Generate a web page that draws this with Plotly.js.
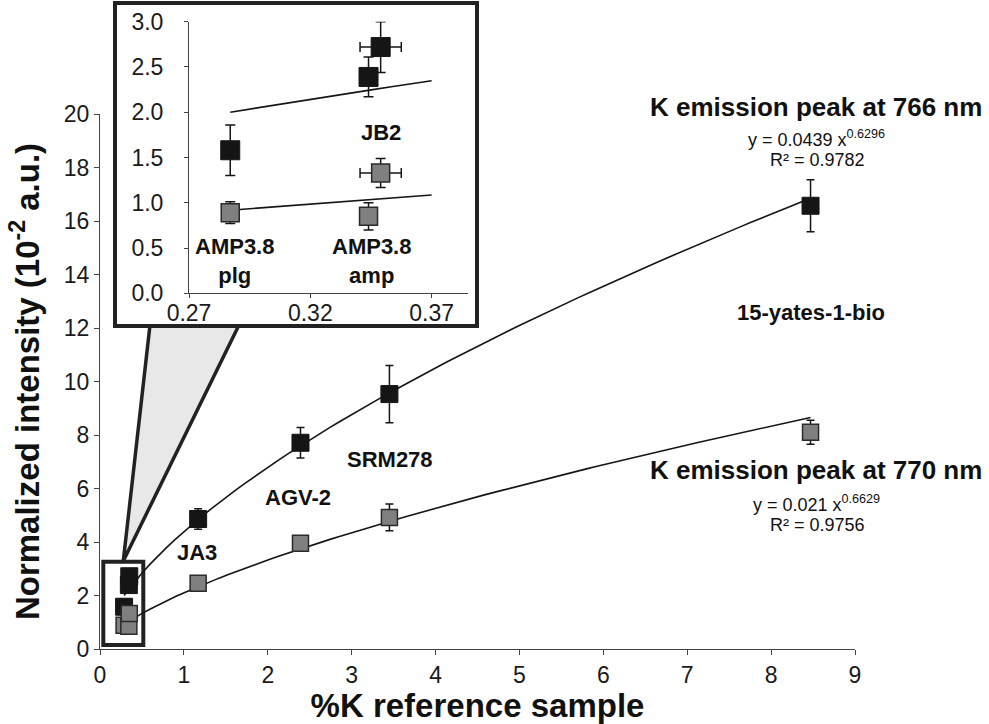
<!DOCTYPE html>
<html>
<head>
<meta charset="utf-8">
<script src="https://cdn.plot.ly/plotly-3.0.1.min.js"></script>
<style>html,body{margin:0;padding:0;background:#fff;}#chart{width:989px;height:724px;}</style>
</head>
<body>
<div id="chart"></div>
<script>
// ---- data ----
const samples    = ["AMP3.8 plg", "AMP3.8 amp", "JB2", "JA3", "AGV-2", "SRM278", "15-yates-1-bio"];
const kPercent   = [0.287, 0.344, 0.349, 1.17, 2.39, 3.45, 8.47];
const kPercentErr= [0, 0, 0.0085, 0, 0, 0, 0];
const int766     = [1.58, 2.39, 2.72, 4.86, 7.71, 9.53, 16.57];
const int766Err  = [0.28, 0.22, 0.28, 0.38, 0.57, 1.07, 0.97];
const int770     = [0.89, 0.85, 1.33, 2.46, 3.95, 4.92, 8.10];
const int770Err  = [0.12, 0.15, 0.16, 0.12, 0.15, 0.50, 0.45];
// power-law trendlines as printed on the chart (y in a.u.; plotted in 1e-2 a.u.)
const fit766 = [0.0439, 0.6296, 0.9782];
const fit770 = [0.021, 0.6629, 0.9756];
const insetTicks = [0.27, 0.32, 0.37];
const insetCount = 3;   // the first three samples are shown in the inset

// ---- layout helpers (pixel -> paper) ----
const W = 989, H = 724, ML = 100, MR = 134, MT = 10, MB = 75;
const PW = W - ML - MR, PH = H - MT - MB;
const px = x => (x - ML) / PW;
const py = y => (H - MB - y) / PH;
const FONT = "Liberation Sans, Arial, sans-serif";

function curve(fit, x0, x1, n) {
  const xs = [], ys = [];
  for (let i = 0; i <= n; i++) {
    const x = x0 + (x1 - x0) * i / n;
    xs.push(x); ys.push(100 * fit[0] * Math.pow(x, fit[1]));
  }
  return {xs, ys};
}
const xMin = Math.min(...kPercent), xMax = Math.max(...kPercent);
const c766 = curve(fit766, xMin, xMax, 80);
const c770 = curve(fit770, xMin, xMax, 80);
const ci766 = curve(fit766, xMin, insetTicks[2], 10);
const ci770 = curve(fit770, xMin, insetTicks[2], 10);

const blk = "#151515", gry = "#808080", edge = "#2a2a2a";

const traces = [
  {x: c766.xs, y: c766.ys, mode: "lines", line: {color: blk, width: 1.6}, xaxis: "x", yaxis: "y", hoverinfo: "skip"},
  {x: c770.xs, y: c770.ys, mode: "lines", line: {color: blk, width: 1.6}, xaxis: "x", yaxis: "y", hoverinfo: "skip"},
  {x: kPercent, y: int766, text: samples, mode: "markers", name: "K 766 nm",
   marker: {symbol: "square", size: 17, color: blk, line: {color: blk, width: 1}},
   error_y: {type: "data", array: int766Err, color: blk, thickness: 1.5, width: 4},
   xaxis: "x", yaxis: "y"},
  {x: kPercent, y: int770, text: samples, mode: "markers", name: "K 770 nm",
   marker: {symbol: "square", size: 16, color: gry, line: {color: edge, width: 1.5}},
   error_y: {type: "data", array: int770Err, color: blk, thickness: 1.5, width: 4},
   xaxis: "x", yaxis: "y"},
  // inset
  {x: ci766.xs, y: ci766.ys, mode: "lines", line: {color: blk, width: 1.6}, xaxis: "x2", yaxis: "y2", hoverinfo: "skip"},
  {x: ci770.xs, y: ci770.ys, mode: "lines", line: {color: blk, width: 1.6}, xaxis: "x2", yaxis: "y2", hoverinfo: "skip"},
  {x: kPercent.slice(0, insetCount), y: int766.slice(0, insetCount), mode: "markers",
   marker: {symbol: "square", size: 19, color: blk, line: {color: blk, width: 1}},
   error_y: {type: "data", array: int766Err.slice(0, insetCount), color: blk, thickness: 1.5, width: 5},
   error_x: {type: "data", array: kPercentErr.slice(0, insetCount), color: blk, thickness: 1.5, width: 5},
   xaxis: "x2", yaxis: "y2"},
  {x: kPercent.slice(0, insetCount), y: int770.slice(0, insetCount), mode: "markers",
   marker: {symbol: "square", size: 18, color: gry, line: {color: edge, width: 1.5}},
   error_y: {type: "data", array: int770Err.slice(0, insetCount), color: blk, thickness: 1.5, width: 5},
   error_x: {type: "data", array: kPercentErr.slice(0, insetCount), color: blk, thickness: 1.5, width: 5},
   xaxis: "x2", yaxis: "y2"}
];

const axisCommon = {
  showgrid: false, zeroline: false, showline: true, linecolor: "#444", linewidth: 1,
  ticks: "outside", ticklen: 5, tickcolor: "#444", tickwidth: 1,
  tickfont: {family: FONT, size: 23, color: "#1a1a1a"}
};

const yTop = py(114);
const layout = {
  width: W, height: H,
  margin: {l: ML, r: MR, t: MT, b: MB, pad: 0},
  paper_bgcolor: "#fff", plot_bgcolor: "rgba(0,0,0,0)",
  showlegend: false, hovermode: false,
  font: {family: FONT, color: "#111"},
  xaxis: Object.assign({}, axisCommon, {
    range: [0, 9], dtick: 1, domain: [0, 1], anchor: "y",
    title: {text: "%K reference sample", font: {family: FONT, size: 33, weight: 700, color: "#111"}, standoff: 6}
  }),
  yaxis: Object.assign({}, axisCommon, {
    range: [0, 20], dtick: 2, domain: [0, yTop], anchor: "x",
    title: {text: "Normalized intensity (10<sup>-2</sup> a.u.)", font: {family: FONT, size: 33, weight: 700, color: "#111"}, standoff: 14}
  }),
  xaxis2: Object.assign({}, axisCommon, {
    range: [0.27, 0.385], tickvals: insetTicks, ticktext: insetTicks.map(v => v.toFixed(2)),
    domain: [px(189), px(468)], anchor: "y2", ticklen: 4, ticklabelstandoff: -5
  }),
  yaxis2: Object.assign({}, axisCommon, {
    range: [0, 3.0], dtick: 0.5, tickformat: ".1f",
    domain: [py(293.3), py(21.7)], anchor: "x2", ticklen: 4, ticklabelstandoff: 16
  }),
  shapes: [
    {type: "path", xref: "paper", yref: "paper", layer: "below",
     path: `M ${px(150)} ${py(325)} L ${px(239)} ${py(325)} L ${px(123.3)} ${py(561)} Z`,
     fillcolor: "#e8e8e8", line: {color: "#222", width: 3.5}},
    {type: "rect", xref: "paper", yref: "paper", layer: "below",
     x0: px(115), x1: px(477), y0: py(326), y1: py(3),
     fillcolor: "#fff", line: {color: "#222", width: 4}},
    {type: "rect", xref: "paper", yref: "paper", layer: "below",
     x0: px(103.3), x1: px(143.3), y0: py(645), y1: py(561.7),
     fillcolor: "rgba(0,0,0,0)", line: {color: "#222", width: 4}}
  ],
  annotations: []
};

function ann(text, x, y, size, bold) {
  layout.annotations.push({
    text: text, xref: "paper", yref: "paper", x: px(x), y: py(y),
    xanchor: "center", yanchor: "middle", showarrow: false,
    font: {family: FONT, size: size, color: "#111", weight: bold ? 700 : 400}
  });
}
ann("K emission peak at 766 nm", 816, 107, 26, true);
ann(`y = ${fit766[0]} x<sup>${fit766[1]}</sup>`, 816, 138, 18, false);
ann(`R² = ${fit766[2]}`, 817, 160, 18, false);
ann("K emission peak at 770 nm", 816, 470, 26, true);
ann(`y = ${fit770[0]} x<sup>${fit770[1]}</sup>`, 816, 503, 18, false);
ann(`R² = ${fit770[2]}`, 817, 525, 18, false);
ann(samples[6], 811, 312, 22, true);
ann(samples[5], 389.5, 460, 22, true);
ann(samples[4], 298, 497, 22, true);
ann(samples[3], 197, 552, 22, true);
ann(samples[2], 381, 132, 22, true);
ann(samples[0].replace(" ", "<br>"), 234, 261, 22, true);
ann(samples[1].replace(" ", "<br>"), 371, 261, 22, true);

Plotly.newPlot("chart", traces, layout, {displayModeBar: false, staticPlot: true});
</script>
</body>
</html>
